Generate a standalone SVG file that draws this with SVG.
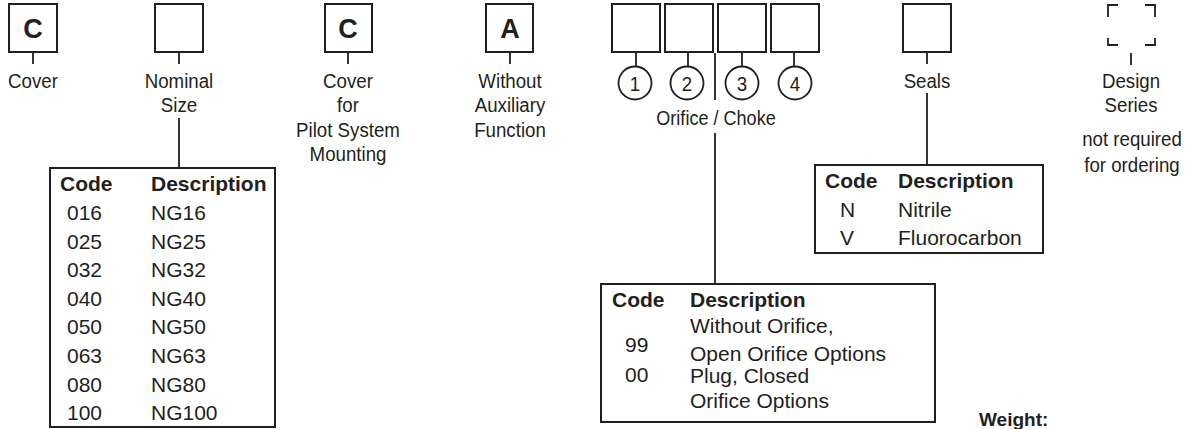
<svg xmlns="http://www.w3.org/2000/svg" width="1187" height="429" viewBox="0 0 1187 429">
<style>
.box{fill:#fff;stroke:#231f20;stroke-width:2}
.ln{stroke:#231f20;stroke-width:1.8;fill:none}
.big{font-family:"Liberation Sans",Arial,sans-serif;font-weight:bold;font-size:27px;fill:#231f20;text-anchor:middle}
.lbl{font-family:"Liberation Sans",Arial,sans-serif;font-size:21px;fill:#231f20;text-anchor:middle}
.tb{font-family:"Liberation Sans",Arial,sans-serif;font-size:21px;fill:#231f20}
.th{font-family:"Liberation Sans",Arial,sans-serif;font-size:21px;font-weight:bold;fill:#231f20}
</style>
<g id="connectors">
<line class="ln" x1="33" y1="52" x2="33" y2="64"/>
<line class="ln" x1="179" y1="52" x2="179" y2="64"/>
<line class="ln" x1="179" y1="118" x2="179" y2="168"/>
<line class="ln" x1="348" y1="52" x2="348" y2="64"/>
<line class="ln" x1="510" y1="52" x2="510" y2="64"/>
<line class="ln" x1="636" y1="52" x2="636" y2="67"/>
<line class="ln" x1="688" y1="52" x2="688" y2="67"/>
<line class="ln" x1="742" y1="52" x2="742" y2="67"/>
<line class="ln" x1="794" y1="52" x2="794" y2="67"/>
<line class="ln" x1="715" y1="53" x2="715" y2="100"/>
<line class="ln" x1="715" y1="133" x2="715" y2="284"/>
<line class="ln" x1="927" y1="52" x2="927" y2="64"/>
<line class="ln" x1="927" y1="93" x2="927" y2="165"/>
<line class="ln" x1="1131" y1="53" x2="1131" y2="65"/>
</g>
<g id="cover">
<rect class="box" x="9" y="4" width="48" height="48"/>
<text class="big" x="33" y="38">C</text>
<text class="lbl" transform="translate(33,88) scale(0.89,1)">Cover</text>
</g>
<g id="nominal-size">
<rect class="box" x="155" y="4" width="48" height="48"/>
<text class="lbl" transform="translate(179,88) scale(0.89,1)">Nominal</text>
<text class="lbl" transform="translate(179,112) scale(0.89,1)">Size</text>
</g>
<g id="size-table">
<rect class="box" x="50" y="168" width="225" height="259"/>
<text class="th" x="60" y="191">Code</text>
<text class="th" x="151" y="191">Description</text>
<g class="tb">
<text x="67" y="220">016</text><text x="151" y="220">NG16</text>
<text x="67" y="248.6">025</text><text x="151" y="248.6">NG25</text>
<text x="67" y="277.2">032</text><text x="151" y="277.2">NG32</text>
<text x="67" y="305.8">040</text><text x="151" y="305.8">NG40</text>
<text x="67" y="334.4">050</text><text x="151" y="334.4">NG50</text>
<text x="67" y="363">063</text><text x="151" y="363">NG63</text>
<text x="67" y="391.6">080</text><text x="151" y="391.6">NG80</text>
<text x="67" y="420">100</text><text x="151" y="420">NG100</text>
</g>
</g>
<g id="pilot-cover">
<rect class="box" x="325" y="4" width="47" height="48"/>
<text class="big" x="348" y="38">C</text>
<text class="lbl" transform="translate(348,88) scale(0.89,1)">Cover</text>
<text class="lbl" transform="translate(348,112) scale(0.89,1)">for</text>
<text class="lbl" transform="translate(348,137) scale(0.89,1)">Pilot System</text>
<text class="lbl" transform="translate(348,161) scale(0.89,1)">Mounting</text>
</g>
<g id="aux-function">
<rect class="box" x="486" y="4" width="47" height="48"/>
<text class="big" x="510" y="38">A</text>
<text class="lbl" transform="translate(510,88) scale(0.89,1)">Without</text>
<text class="lbl" transform="translate(510,112) scale(0.89,1)">Auxiliary</text>
<text class="lbl" transform="translate(510,137) scale(0.89,1)">Function</text>
</g>
<g id="orifice">
<rect class="box" x="612" y="4" width="48" height="48"/>
<rect class="box" x="665" y="4" width="48" height="48"/>
<rect class="box" x="718" y="4" width="48" height="48"/>
<rect class="box" x="771" y="4" width="48" height="48"/>
<circle class="ln" cx="635" cy="83" r="16.5"/>
<circle class="ln" cx="687" cy="83" r="16.5"/>
<circle class="ln" cx="742" cy="83" r="16.5"/>
<circle class="ln" cx="795" cy="83" r="16.5"/>
<text class="lbl" transform="translate(635,91) scale(0.89,1)">1</text>
<text class="lbl" transform="translate(687,91) scale(0.89,1)">2</text>
<text class="lbl" transform="translate(742,91) scale(0.89,1)">3</text>
<text class="lbl" transform="translate(795,91) scale(0.89,1)">4</text>
<text class="lbl" transform="translate(716,125) scale(0.86,1)">Orifice / Choke</text>
</g>
<g id="orifice-table">
<rect class="box" x="601" y="284" width="334" height="138"/>
<text class="th" x="612" y="307">Code</text>
<text class="th" x="690" y="307">Description</text>
<g class="tb">
<text x="625" y="352">99</text>
<text x="690" y="333">Without Orifice,</text>
<text x="690" y="361">Open Orifice Options</text>
<text x="625" y="382">00</text>
<text x="690" y="383">Plug, Closed</text>
<text x="690" y="408">Orifice Options</text>
</g>
</g>
<g id="seals">
<rect class="box" x="903" y="4" width="48" height="48"/>
<text class="lbl" transform="translate(927,88) scale(0.89,1)">Seals</text>
</g>
<g id="seals-table">
<rect class="box" x="815" y="165" width="228" height="88"/>
<text class="th" x="825" y="188">Code</text>
<text class="th" x="898" y="188">Description</text>
<g class="tb">
<text x="840" y="217">N</text><text x="898" y="217">Nitrile</text>
<text x="840" y="245">V</text><text x="898" y="245">Fluorocarbon</text>
</g>
</g>
<g id="design-series">
<path class="ln" d="M1108 17 V5 H1118 M1145 5 H1155 V17 M1108 38 V45 H1118 M1145 45 H1155 V38"/>
<text class="lbl" transform="translate(1131,88) scale(0.89,1)">Design</text>
<text class="lbl" transform="translate(1131,112) scale(0.89,1)">Series</text>
<text class="lbl" transform="translate(1132,146) scale(0.89,1)">not required</text>
<text class="lbl" transform="translate(1132,172) scale(0.89,1)">for ordering</text>
</g>
<g id="weight">
<text class="th" x="979" y="426" style="font-size:19px">Weight:</text>
</g>
</svg>
